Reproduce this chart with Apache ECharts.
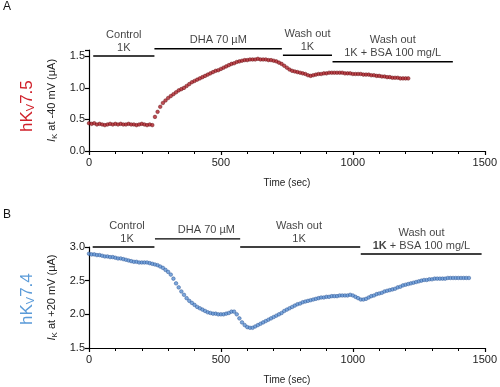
<!DOCTYPE html>
<html><head><meta charset="utf-8">
<script src="https://cdn.jsdelivr.net/npm/echarts@6/dist/echarts.min.js"></script>
<style>html,body{margin:0;padding:0;background:#fff}#c{width:500px;height:387px}</style>
</head><body><div id="c"></div>
<script>
// ---- Panel A (hKv7.5), time (s) every 10 s and current (µA)
var timeA = [];
for (var i = 0; i <= 121; i++) timeA.push(i * 10);
var valuesA = [0.44,0.43,0.44,0.42,0.43,0.42,0.41,0.42,0.43,0.42,0.43,0.42,0.43,0.42,0.42,0.43,0.42,0.42,0.41,0.42,0.43,0.42,0.41,0.42,0.41,
  0.54,0.62,0.70,0.76,0.80,0.84,0.87,0.90,0.93,0.96,0.98,1.00,1.03,1.06,1.09,1.11,1.13,1.15,1.17,1.19,1.21,1.23,1.25,1.27,1.28,
  1.30,1.32,1.34,1.36,1.38,1.39,1.41,1.42,1.43,1.44,1.44,1.45,1.45,1.45,1.46,1.45,1.45,1.45,1.44,1.44,1.43,1.42,1.40,1.38,1.35,
  1.32,1.29,1.27,1.26,1.25,1.24,1.23,1.22,1.20,1.19,1.20,1.21,1.22,1.22,1.23,1.23,1.24,1.24,1.24,1.24,1.24,1.24,1.23,1.23,1.23,
  1.22,1.22,1.22,1.22,1.21,1.21,1.21,1.20,1.20,1.19,1.19,1.18,1.18,1.17,1.17,1.16,1.16,1.16,1.15,1.15,1.15,1.15];
// ---- Panel B (hKv7.4)
var timeB = [];
for (var j = 0; j <= 144; j++) timeB.push(j * 10);
var valuesB = [2.90,2.89,2.89,2.88,2.88,2.87,2.86,2.86,2.85,2.85,2.84,2.83,2.83,2.82,2.81,2.80,2.79,2.78,2.78,2.77,
  2.77,2.77,2.77,2.76,2.75,2.74,2.73,2.71,2.69,2.66,2.63,2.59,2.53,2.46,2.40,2.34,2.29,2.24,2.20,2.17,
  2.14,2.11,2.09,2.07,2.05,2.03,2.02,2.01,2.01,2.00,2.00,2.00,2.01,2.02,2.04,2.04,2.00,1.94,1.88,1.84,
  1.81,1.80,1.80,1.82,1.84,1.86,1.88,1.90,1.92,1.94,1.96,1.98,2.00,2.02,2.05,2.07,2.09,2.11,2.13,2.15,
  2.16,2.18,2.19,2.20,2.21,2.22,2.23,2.24,2.25,2.25,2.26,2.26,2.27,2.27,2.27,2.28,2.28,2.28,2.28,2.29,
  2.28,2.26,2.24,2.22,2.22,2.23,2.25,2.27,2.28,2.30,2.31,2.32,2.34,2.35,2.36,2.37,2.38,2.40,2.41,2.43,
  2.44,2.45,2.46,2.47,2.48,2.49,2.50,2.51,2.51,2.52,2.52,2.53,2.53,2.53,2.53,2.53,2.54,2.54,2.54,2.54,
  2.54,2.54,2.54,2.54,2.54];

// ---- condition periods (data units: seconds, bar level in µA)
var condTextA = ['Control\n1K', 'DHA 70 µM', 'Wash out\n1K', 'Wash out\n1K + BSA 100 mg/L'];
var condStartA = [16, 248, 735, 923];
var condEndA = [248, 731, 921, 1379];
var condLevelA = [1.505, 1.62, 1.516, 1.415];
var condTextXA = [132, 490, 828, 1151];

var condTextB = ['Control\n1K', 'DHA 70 µM', 'Wash out\n1K', 'Wash out\n{b|1K} + BSA 100 mg/L'];
var condStartB = [14, 250, 573, 1030];
var condEndB = [248, 573, 1028, 1488];
var condLevelB = [3.0, 3.12, 3.0, 2.895];
var condTextXB = [144, 445, 796, 1260];

var xTicks = {min: 0, max: 1500, interval: 500};
var yTicksA = {min: 0, max: 1.6, interval: 0.5};
var yTicksB = {min: 1.5, max: 3.0, interval: 0.5};

var FONT = '"Liberation Sans", Arial, sans-serif';
var txt = '#222';

function pairs(t, v) { return t.map(function (x, k) { return [x, v[k]]; }); }

function condSeries(gi, starts, ends, levels, texts, textX) {
  var out = [];
  for (var k = 0; k < starts.length; k++) {
    out.push({
      type: 'line', xAxisIndex: gi, yAxisIndex: gi, silent: true, clip: false,
      symbol: 'none', lineStyle: {color: '#000', width: 1.4},
      data: [[starts[k], levels[k]], [ends[k], levels[k]]], z: 5
    });
  }
  out.push({
    type: 'scatter', xAxisIndex: gi, yAxisIndex: gi, silent: true, clip: false,
    symbolSize: 0,
    data: texts.map(function (s, k) { return {value: [textX[k], levels[k]], name: s}; }),
    label: {
      show: true, position: 'top', distance: 2, formatter: '{b}',
      fontFamily: FONT, fontSize: 11, color: '#111', lineHeight: 13, align: 'center',
      rich: {b: {fontWeight: 'bold', fontFamily: FONT, fontSize: 11, color: '#111'}}
    }
  });
  return out;
}

function yAxis(gi, t, name) {
  return {
    gridIndex: gi, type: 'value', min: t.min, max: t.max, interval: t.interval,
    splitLine: {show: false},
    axisLine: {show: true, lineStyle: {color: '#000', width: 1.2}},
    axisTick: {show: true, length: 4, lineStyle: {color: '#000', width: 1.2}},
    axisLabel: {
      color: txt, fontFamily: FONT, fontSize: 11, margin: 4,
      formatter: function (v) {
        var r = Math.round(v / t.interval) * t.interval;
        return Math.abs(r - v) < 1e-6 ? v.toFixed(1) : '';
      }
    },
    name: name, nameLocation: 'middle', nameGap: 24, nameRotate: 90,
    nameTextStyle: {
      color: txt, fontFamily: FONT, fontSize: 11,
      rich: {
        i: {fontStyle: 'italic', fontSize: 11, fontFamily: FONT, color: txt},
        s: {fontSize: 8, fontFamily: FONT, color: txt, verticalAlign: 'bottom', padding: [5, 0, 0, 0]},
        n: {fontSize: 11, fontFamily: FONT, color: txt}
      }
    }
  };
}

function xAxis(gi) {
  return {
    gridIndex: gi, type: 'value', min: xTicks.min, max: xTicks.max, interval: xTicks.interval,
    splitLine: {show: false},
    axisLine: {show: true, lineStyle: {color: '#000', width: 1.2}},
    axisTick: {show: true, length: 4, lineStyle: {color: '#000', width: 1.2}},
    minorTick: {show: true, splitNumber: 5, length: 3, lineStyle: {color: '#000', width: 1}},
    minorSplitLine: {show: false},
    axisLabel: {color: txt, fontFamily: FONT, fontSize: 11, margin: 6,
      formatter: function (v) { return String(v); }},
    name: 'Time (sec)', nameLocation: 'middle', nameGap: 27,
    nameTextStyle: {color: txt, fontFamily: FONT, fontSize: 10}
  };
}

var chart = echarts.init(document.getElementById('c'), null, {renderer: 'canvas'});
var series = [
  {type: 'scatter', xAxisIndex: 0, yAxisIndex: 0, symbol: 'circle', symbolSize: 3.6,
   itemStyle: {color: '#ad1f27', borderColor: '#680e12', borderWidth: 0.6},
   data: pairs(timeA, valuesA), z: 3},
  {type: 'scatter', xAxisIndex: 1, yAxisIndex: 1, symbol: 'circle', symbolSize: 3.6,
   itemStyle: {color: '#5d91d2', borderColor: '#2b5595', borderWidth: 0.6},
   data: pairs(timeB, valuesB), z: 3}
].concat(condSeries(0, condStartA, condEndA, condLevelA, condTextA, condTextXA))
 .concat(condSeries(1, condStartB, condEndB, condLevelB, condTextB, condTextXB));

chart.setOption({
  animation: false,
  backgroundColor: '#fff',
  grid: [
    {left: 89, top: 50, right: 14, height: 101},
    {left: 89, top: 247, right: 13, height: 101}
  ],
  xAxis: [xAxis(0), xAxis(1)],
  yAxis: [
    yAxis(0, yTicksA, '{i|I}{s|K}{n| at -40 mV (μA)}'),
    yAxis(1, yTicksB, '{i|I}{s|K}{n| at +20 mV (μA)}')
  ],
  graphic: [
    {type: 'text', left: 3, top: 1, style: {text: 'A', font: '12px ' + FONT, fill: '#111'}},
    {type: 'text', left: 3, top: 209, style: {text: 'B', font: '12px ' + FONT, fill: '#111'}},
    {type: 'text', x: 19, y: 132, rotation: Math.PI / 2,
     style: {text: '{a|hK}{b|V}{a|7.5}', fill: '#d0212b',
       rich: {a: {fontSize: 17, fontFamily: FONT, fill: '#d0212b'}, b: {fontSize: 11, fontFamily: FONT, fill: '#d0212b', verticalAlign: 'bottom', padding: [6, 0, 0, 0]}}}},
    {type: 'text', x: 19, y: 325, rotation: Math.PI / 2,
     style: {text: '{a|hK}{b|V}{a|7.4}', fill: '#5b9bd8',
       rich: {a: {fontSize: 17, fontFamily: FONT, fill: '#5b9bd8'}, b: {fontSize: 11, fontFamily: FONT, fill: '#5b9bd8', verticalAlign: 'bottom', padding: [6, 0, 0, 0]}}}}
  ],
  series: series
});
</script>
</body></html>
